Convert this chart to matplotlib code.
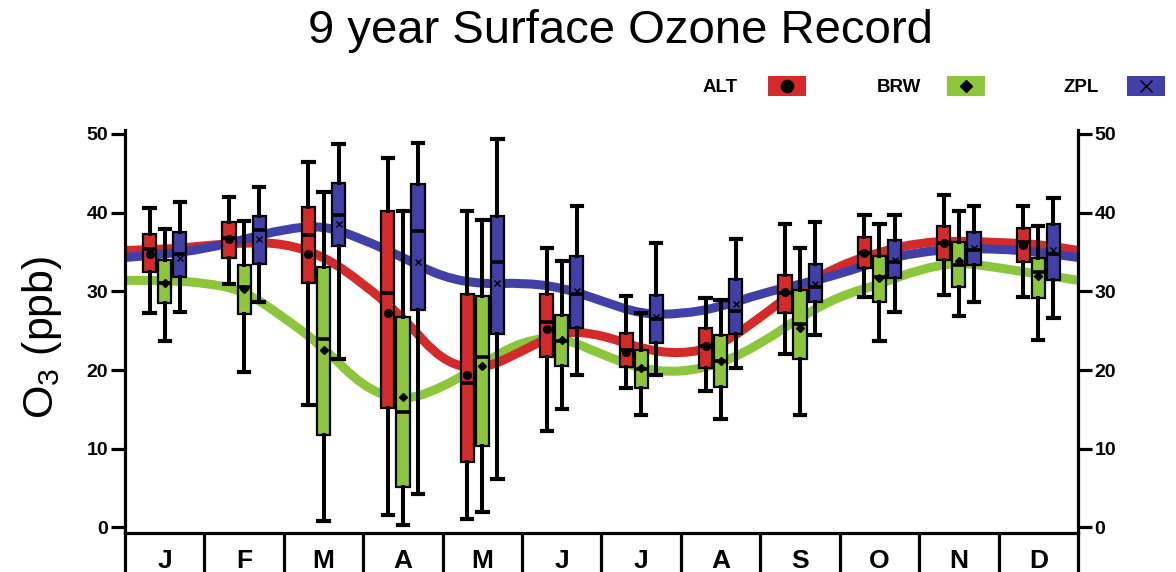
import matplotlib
matplotlib.use("Agg")
import matplotlib.pyplot as plt
from matplotlib.path import Path
from matplotlib.patches import PathPatch, Rectangle

plt.rcParams['font.family'] = ['Liberation Sans', 'DejaVu Sans']
plt.rcParams['mathtext.default'] = 'regular'

# month labels
months = ['J', 'F', 'M', 'A', 'M', 'J', 'J', 'A', 'S', 'O', 'N', 'D']
stations = ['ALT', 'BRW', 'ZPL']

# box statistics (ppb)
alt_hi   = [40.6, 42.0, 46.4, 47.0, 40.2, 35.5, 29.4, 29.1, 38.6, 39.7, 42.3, 40.9]
alt_q3   = [37.3, 38.8, 40.7, 40.2, 29.7, 29.7, 24.7, 25.3, 32.1, 36.9, 38.3, 38.0]
alt_med  = [35.4, 36.8, 37.1, 29.8, 18.3, 26.1, 22.5, 23.0, 29.8, 34.9, 36.2, 36.3]
alt_mean = [34.7, 36.6, 34.7, 27.2, 19.4, 25.2, 22.3, 23.0, 29.9, 34.9, 36.1, 35.9]
alt_q1   = [32.5, 34.3, 31.0, 15.2, 8.3, 21.7, 20.4, 20.3, 27.2, 33.0, 34.0, 33.7]
alt_lo   = [27.2, 30.9, 15.5, 1.6, 1.1, 12.3, 17.7, 17.4, 22.0, 29.3, 29.5, 29.3]

brw_hi   = [37.9, 39.0, 42.6, 40.2, 39.1, 33.9, 27.2, 28.9, 35.5, 38.5, 40.2, 38.3]
brw_q3   = [34.0, 33.4, 33.1, 26.7, 29.4, 27.0, 22.5, 24.4, 30.2, 34.5, 36.3, 34.3]
brw_med  = [31.1, 30.6, 23.9, 14.7, 21.7, 23.7, 20.1, 21.1, 25.8, 31.8, 33.4, 32.4]
brw_mean = [31.0, 30.3, 22.5, 16.6, 20.5, 23.8, 20.2, 21.2, 25.4, 31.7, 33.8, 32.0]
brw_q1   = [28.5, 27.1, 11.7, 5.1, 10.3, 20.5, 17.7, 17.9, 21.4, 28.6, 30.6, 29.1]
brw_lo   = [23.7, 19.8, 0.85, 0.3, 2.0, 15.0, 14.3, 13.8, 14.3, 23.7, 26.9, 23.8]

zpl_hi   = [41.4, 43.3, 48.7, 48.8, 49.4, 40.8, 36.1, 36.6, 38.8, 39.7, 40.9, 41.8]
zpl_q3   = [37.6, 39.6, 43.8, 43.7, 39.6, 34.5, 29.6, 31.6, 33.5, 36.5, 37.6, 38.6]
zpl_med  = [34.7, 37.8, 39.7, 37.7, 33.7, 29.7, 26.5, 27.5, 30.6, 33.7, 35.3, 34.7]
zpl_mean = [34.3, 36.6, 38.5, 33.7, 31.1, 30.1, 26.7, 28.4, 30.9, 34.0, 35.5, 35.2]
zpl_q1   = [31.8, 33.5, 35.7, 27.6, 24.6, 25.4, 23.5, 24.6, 28.6, 31.7, 33.4, 31.5]
zpl_lo   = [27.4, 28.6, 21.4, 4.2, 6.1, 19.4, 19.4, 20.3, 24.4, 27.4, 28.7, 26.6]

# smoothed seasonal curves, read every half month from 0.5 to 12.5
curve_x = [0.5, 1.0, 1.5, 2.0, 2.5, 3.0, 3.5, 4.0, 4.5, 5.0, 5.5, 6.0, 6.5,
           7.0, 7.5, 8.0, 8.5, 9.0, 9.5, 10.0, 10.5, 11.0, 11.5, 12.0, 12.5]
alt_curve = [35.2, 35.3, 35.8, 36.2, 36.1, 34.5, 31.0, 26.7, 21.0, 20.0, 22.4, 25.0, 24.5,
             22.7, 22.0, 23.1, 26.7, 30.5, 33.3, 35.0, 36.2, 36.4, 36.2, 36.0, 35.2]
brw_curve = [31.4, 31.4, 31.1, 30.1, 26.7, 22.9, 17.8, 16.0, 17.8, 20.8, 23.7, 24.2, 22.0,
             20.1, 19.7, 20.8, 23.3, 26.7, 29.4, 30.9, 32.8, 33.7, 33.0, 32.2, 31.4]
zpl_curve = [34.3, 34.7, 35.4, 36.6, 37.9, 38.4, 36.6, 34.3, 31.8, 30.9, 31.1, 30.5, 28.8,
             27.1, 27.1, 28.0, 29.7, 30.9, 32.2, 33.9, 35.0, 35.4, 35.4, 35.0, 34.3]

colors = {'ALT': '#d62a2a', 'BRW': '#8cc63a', 'ZPL': '#4040a8'}
mean_style = {'ALT': dict(marker='o', markersize=5.5),
              'BRW': dict(marker='D', markersize=4),
              'ZPL': dict(marker='x', markersize=5, markeredgewidth=1.0)}
offsets = {'ALT': -0.19, 'BRW': 0.0, 'ZPL': 0.19}

box_data = {
    'ALT': (alt_lo, alt_q1, alt_med, alt_q3, alt_hi, alt_mean),
    'BRW': (brw_lo, brw_q1, brw_med, brw_q3, brw_hi, brw_mean),
    'ZPL': (zpl_lo, zpl_q1, zpl_med, zpl_q3, zpl_hi, zpl_mean),
}
curves = {'ALT': alt_curve, 'BRW': brw_curve, 'ZPL': zpl_curve}

W, H = 1176, 572
fig = plt.figure(figsize=(W / 100, H / 100), dpi=100)
ax = fig.add_axes([125 / W, (H - 533) / H, (1078 - 125) / W, (533 - 130) / H])
ax.set_xlim(0.5, 12.5)
ax.set_ylim(-0.7, 50.5)


def smooth_path(xs, ys):
    # quadratic bezier through midpoints, like a spreadsheet "smoothed line"
    pts = list(zip(xs, ys))
    verts = [pts[0]]
    codes = [Path.MOVETO]
    for i in range(1, len(pts) - 1):
        mid = ((pts[i][0] + pts[i + 1][0]) / 2, (pts[i][1] + pts[i + 1][1]) / 2)
        verts += [pts[i], mid]
        codes += [Path.CURVE3, Path.CURVE3]
    verts.append(pts[-1])
    codes.append(Path.LINETO)
    return Path(verts, codes)


# curves sit behind the boxes
for st in ['BRW', 'ALT', 'ZPL']:
    patch = PathPatch(smooth_path(curve_x, curves[st]), fill=False,
                      edgecolor=colors[st], linewidth=6.5, capstyle='butt',
                      joinstyle='round', zorder=2)
    ax.add_patch(patch)

for st in stations:
    lo, q1, med, q3, hi, mean = box_data[st]
    stats = []
    for i in range(12):
        stats.append(dict(whislo=lo[i], q1=q1[i], med=med[i], q3=q3[i],
                          whishi=hi[i], mean=mean[i], fliers=[]))
    pos = [m + 1 + offsets[st] for m in range(12)]
    mp = dict(markerfacecolor='black', markeredgecolor='black')
    mp.update(mean_style[st])
    ax.bxp(stats, positions=pos, widths=0.165, capwidths=0.13,
           patch_artist=True, showmeans=True, showfliers=False,
           manage_ticks=False, zorder=3,
           boxprops=dict(facecolor=colors[st], edgecolor='black', linewidth=1.6),
           medianprops=dict(color='black', linewidth=2.6),
           whiskerprops=dict(color='black', linewidth=2.9),
           capprops=dict(color='black', linewidth=3.0),
           meanprops=mp)

ax.spines['top'].set_visible(False)
for side in ['left', 'right', 'bottom']:
    ax.spines[side].set_linewidth(2.3)
ax.set_yticks([0, 10, 20, 30, 40, 50])
ax.set_xticks([])
ax.tick_params(axis='y', left=True, right=True, labelleft=True, labelright=True,
               direction='out', length=10, width=2.3, pad=2, labelsize=14)
for lab in ax.get_yticklabels():
    lab.set_fontweight('bold')

# month strip below the axis
mx = fig.add_axes([125 / W, 0, (1078 - 125) / W, 39 / H])
mx.set_xlim(0.5, 12.5)
mx.set_ylim(0, 1)
mx.set_xticks([])
mx.set_yticks([])
mx.spines['top'].set_visible(False)
mx.spines['bottom'].set_visible(False)
mx.spines['left'].set_linewidth(2.3)
mx.spines['right'].set_linewidth(2.3)
mx.patch.set_alpha(0)
mx.vlines([m + 1.5 for m in range(11)], 0, 1, color='black', linewidth=2.3)
for i, m in enumerate(months):
    mx.text(i + 1, 0.58, m, ha='center', va='top', fontsize=19, fontweight='bold')

# title and y label
fig.text(620 / W, 1 - 43 / H, '9 year Surface Ozone Record', ha='center',
         va='baseline', fontsize=34)
fig.text(42 / W, 1 - 337 / H, 'O$_3$ (ppb)', rotation=90, ha='center',
         va='center', fontsize=31)

# legend drawn in pixel space at the top right
lax = fig.add_axes([0, 0, 1, 1])
lax.set_xlim(0, W)
lax.set_ylim(H, 0)
lax.axis('off')
leg_text_x = {'ALT': 720, 'BRW': 899, 'ZPL': 1081}
leg_box_x = {'ALT': 768, 'BRW': 947, 'ZPL': 1127}
for st in stations:
    lax.text(leg_text_x[st], 87, st, ha='center', va='center', fontsize=13.5,
             fontweight='bold')
    lax.add_patch(Rectangle((leg_box_x[st], 76), 38, 20, facecolor=colors[st],
                            edgecolor='none'))
    ms = dict(mean_style[st])
    ms['markersize'] = ms['markersize'] * 1.6
    lax.plot([leg_box_x[st] + 19], [86], linestyle='none', color='black', **ms)

fig.savefig('out.png', dpi=100)
